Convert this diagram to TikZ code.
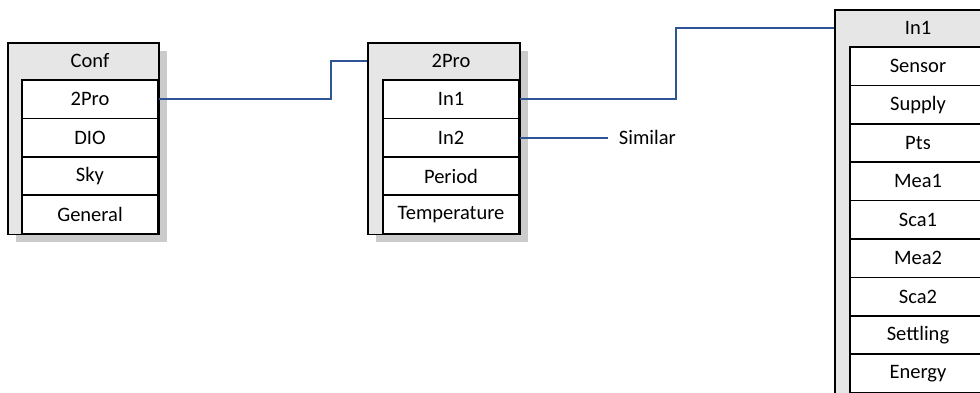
\documentclass[tikz,border=0pt]{standalone}
\usepackage{fontspec}
\setmainfont{Carlito}
\usetikzlibrary{shadows}
\definecolor{hdrgray}{HTML}{E6E6E6}
\definecolor{shadowgray}{HTML}{CBCBCB}
\definecolor{linkblue}{HTML}{2F5597}

\begin{document}
\begin{tikzpicture}[x=1pt, y=-1pt, font=\fontsize{20.5}{24}\selectfont,
  frame/.style={draw, line width=1.5pt, fill=hdrgray, inner sep=0, anchor=north west,
    drop shadow={shadow xshift=8pt, shadow yshift=-8pt, fill=shadowgray, opacity=1}},
  row/.style={draw, line width=1.5pt, fill=white, inner sep=0,
    minimum width=136pt, minimum height=38.4pt},
  link/.style={draw=linkblue, line width=2pt}]
  \useasboundingbox (0,0) rectangle (980,392);
  \clip (0,0) rectangle (980,392);

  % Conf
  \node[frame, minimum width=151pt, minimum height=191.6pt] (confbox) at (7,42) {};
  \node (confhdr) at (90,61) {Conf};
  \foreach \txt [count=\i] in {2Pro,DIO,Sky,General}
    \node[row] (conf-\i) at (90,{80+38.4*(\i-0.5)}) {\txt};

  % 2Pro
  \node[frame, minimum width=152pt, minimum height=191.6pt] (probox) at (367,42) {};
  \node (prohdr) at (451,61) {2Pro};
  \foreach \txt [count=\i] in {In1,In2,Period,Temperature}
    \node[row] (pro-\i) at (451,{80+38.4*(\i-0.5)}) {\txt};

  % In1
  \node[frame, minimum width=152pt, minimum height=383.6pt] (inbox) at (834,9) {};
  \node (inhdr) at (918,28) {In1};
  \foreach \txt [count=\i] in {Sensor,Supply,Pts,Mea1,Sca1,Mea2,Sca2,Settling,Energy}
    \node[row] (in-\i) at (918,{47+38.4*(\i-0.5)}) {\txt};

  \node[anchor=west, inner xsep=11pt, inner ysep=0] (similar) at ([xshift=88pt]pro-2.east) {Similar};

  % Verbindungen
  \draw[link] (conf-1.east) -- ++(172,0) |- (probox.west |- prohdr);
  \draw[link] (pro-1.east) -- ++(156,0) |- (inbox.west |- inhdr);
  \draw[link] (pro-2.east) -- (similar.west);
\end{tikzpicture}
\end{document}
